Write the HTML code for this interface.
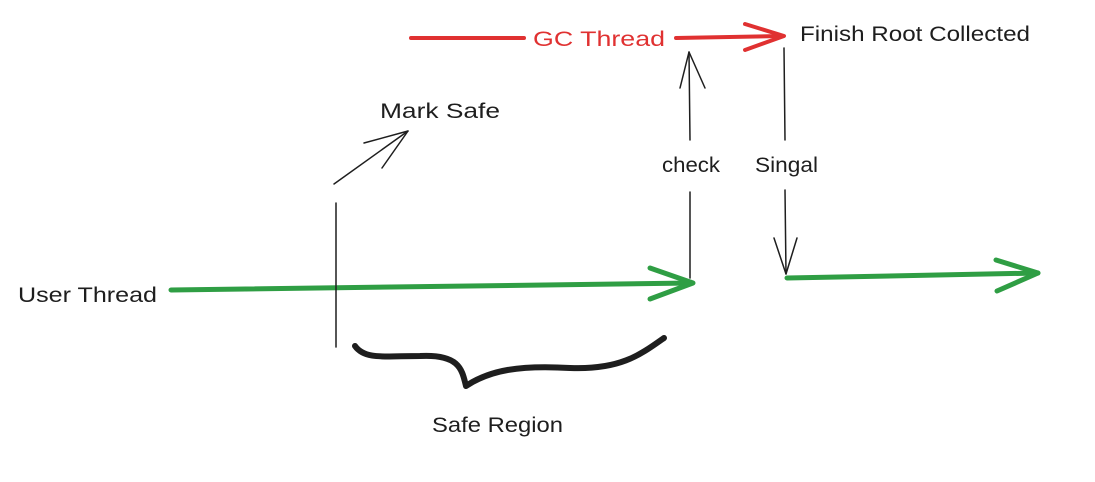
<!DOCTYPE html>
<html><head><meta charset="utf-8"><style>
html,body{margin:0;padding:0;background:#fff;}
svg{display:block}
text{font-family:"Liberation Sans",sans-serif;font-size:21px;fill:#1e1e1e}
</style></head><body>
<svg width="1095" height="482" viewBox="0 0 1095 482" xmlns="http://www.w3.org/2000/svg">
<g fill="none" stroke-linecap="round" stroke-linejoin="round">
<!-- GC red -->
<path d="M411 38 L524 38" stroke="#e03131" stroke-width="4"/>
<path d="M676 38 L782 36" stroke="#e03131" stroke-width="4"/>
<path d="M745 24 L784 36 L745 50" stroke="#e03131" stroke-width="4"/>
<!-- check arrow up -->
<path d="M690 140 L689 52" stroke="#1e1e1e" stroke-width="1.5"/>
<path d="M690 192 L690 278" stroke="#1e1e1e" stroke-width="1.5"/>
<path d="M680 88 L689 52 L705 88" stroke="#1e1e1e" stroke-width="1.5"/>
<!-- singal down -->
<path d="M784 48 L785 140" stroke="#1e1e1e" stroke-width="1.5"/>
<path d="M785 190 L786 274" stroke="#1e1e1e" stroke-width="1.5"/>
<path d="M774 238 L786 274 L797 238" stroke="#1e1e1e" stroke-width="1.5"/>
<!-- green user thread -->
<path d="M171 290 L692 283" stroke="#2f9e44" stroke-width="5"/>
<path d="M650 268 L693 283 L650 299" stroke="#2f9e44" stroke-width="5"/>
<path d="M787 278 L1038 273" stroke="#2f9e44" stroke-width="5"/>
<path d="M996 260 L1038 273 L997 291" stroke="#2f9e44" stroke-width="5"/>
<!-- vertical marker -->
<path d="M336 203 L336 347" stroke="#1e1e1e" stroke-width="1.5"/>
<!-- mark safe arrow -->
<path d="M334 184 L408 131" stroke="#1e1e1e" stroke-width="1.5"/>
<path d="M364 143 L408 131 L382 168" stroke="#1e1e1e" stroke-width="1.5"/>
<!-- brace -->
<path d="M355 346 C365 360 385 356 420 356 C460 354 462 370 466 386 C490 370 520 365 570 368 C620 370 640 355 664 338" stroke="#1e1e1e" stroke-width="6"/>
</g>
<text x="533" y="46" fill="#e03131" style="fill:#e03131" textLength="132" lengthAdjust="spacingAndGlyphs">GC  Thread</text>
<text x="800" y="41" textLength="230" lengthAdjust="spacingAndGlyphs">Finish Root Collected</text>
<text x="380" y="118" textLength="120" lengthAdjust="spacingAndGlyphs">Mark Safe</text>
<text x="662" y="172" textLength="58" lengthAdjust="spacingAndGlyphs">check</text>
<text x="755" y="172" textLength="63" lengthAdjust="spacingAndGlyphs">Singal</text>
<text x="18" y="302" textLength="139" lengthAdjust="spacingAndGlyphs">User Thread</text>
<text x="432" y="432" textLength="131" lengthAdjust="spacingAndGlyphs">Safe Region</text>
</svg>
</body></html>
